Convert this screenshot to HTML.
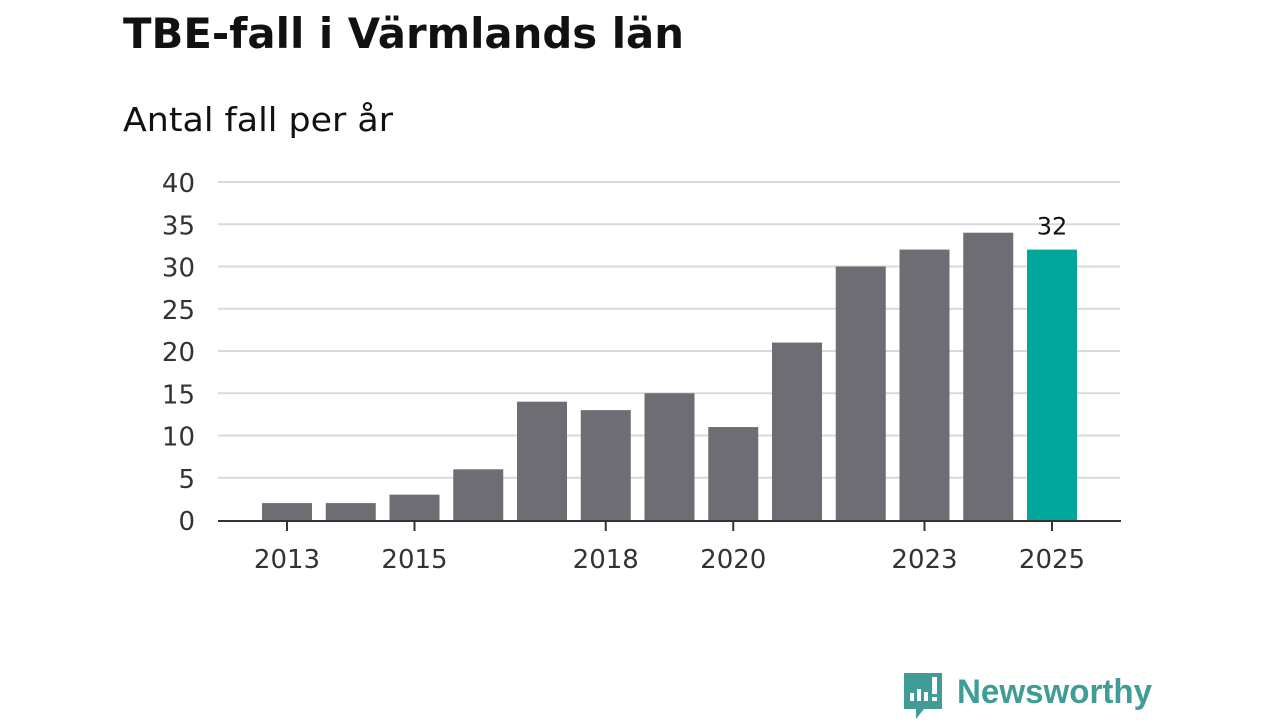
<!DOCTYPE html>
<html><head><meta charset="utf-8"><style>
body{margin:0;width:1280px;height:720px;background:#fff;overflow:hidden;font-family:"DejaVu Sans","Liberation Sans",sans-serif;}
</style></head><body>
<svg id="c" width="1280" height="720">
<text x="123" y="48" font-size="42" font-weight="bold" fill="#111" textLength="561" lengthAdjust="spacingAndGlyphs">TBE-fall i Värmlands län</text>
<text x="123" y="131" font-size="33" fill="#111" textLength="270" lengthAdjust="spacingAndGlyphs">Antal fall per år</text>
<g id="grid"></g><g id="bars"></g><g id="axis"></g>
<g>
<path d="M904 673 h38 v36 h-18 l-8 10 v-10 h-12 z" fill="#3f9c96"/>
<rect x="910" y="693" width="4" height="8" fill="#fff"/><rect x="917" y="689" width="4" height="12" fill="#fff"/><rect x="924" y="692" width="4" height="9" fill="#fff"/><rect x="932" y="677" width="5" height="17" fill="#fff"/><rect x="932" y="697" width="5" height="4" fill="#fff"/>
<text x="957" y="703" font-size="34" font-weight="bold" fill="#3f9c96" font-family="Liberation Sans" textLength="195" lengthAdjust="spacingAndGlyphs">Newsworthy</text>
</g>
</svg>
<script>
const years=[2013,2014,2015,2016,2017,2018,2019,2020,2021,2022,2023,2024,2025];
const values=[2,2,3,6,14,13,15,11,21,30,32,34,32];
const yTicks=[0,5,10,15,20,25,30,35,40];
const xLabels=[2013,2015,2018,2020,2023,2025];
const NS="http://www.w3.org/2000/svg";
const y0=520,pxPer=(520-182)/40;
const yS=v=>y0-v*pxPer;
const xS=yr=>287+(yr-2013)*63.75;
function mk(t,a,p){const e=document.createElementNS(NS,t);for(const k in a)e.setAttribute(k,a[k]);p.appendChild(e);return e;}
const g=document.getElementById('grid'),b=document.getElementById('bars'),ax=document.getElementById('axis');
yTicks.forEach(v=>{
 if(v>0){const l=mk('line',{x1:218,x2:1120,y1:yS(v),y2:yS(v),stroke:'#d9d9d9','stroke-width':2},g);
 
 }
 const t=mk('text',{x:195,y:yS(v)+10,'font-size':26,fill:'#333','text-anchor':'end'},g);t.textContent=v;
 
 
});
years.forEach((yr,i)=>{
 const last=i===years.length-1;
 const r=mk('rect',{x:xS(yr)-25,y:yS(values[i]),width:50,height:values[i]*pxPer,fill:last?'#00a69a':'#6e6d73'},b);
 
 
 if(last){const t=mk('text',{x:xS(yr),y:yS(values[i])-15,'font-size':24,fill:'#111','text-anchor':'middle'},b);t.textContent=values[i];
 
 }
});
const al=mk('line',{x1:218,x2:1121,y1:521,y2:521,stroke:'#333','stroke-width':2},ax);


xLabels.forEach(yr=>{
 mk('line',{x1:xS(yr),x2:xS(yr),y1:521,y2:531,stroke:'#333','stroke-width':2},ax);
 const t=mk('text',{x:xS(yr),y:568,'font-size':26,fill:'#333','text-anchor':'middle'},ax);t.textContent=yr;
 
 
});
</script>
</body></html>
